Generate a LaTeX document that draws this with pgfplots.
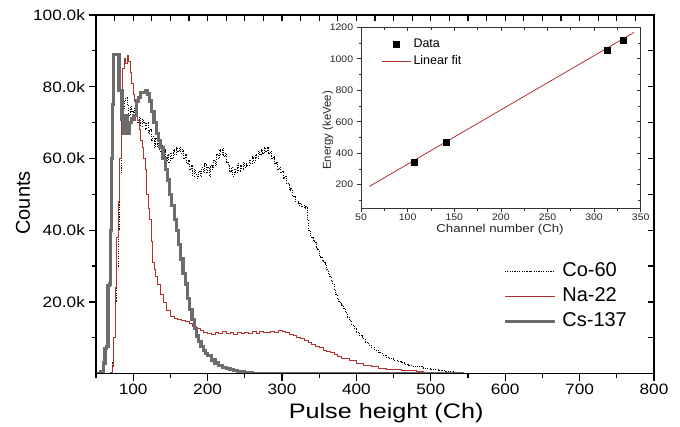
\documentclass[border=0pt]{standalone}
\usepackage{fontspec}
\setmainfont{Liberation Sans}
\usepackage{pgfplots}
\usepackage{pgfplotstable}
\pgfplotsset{compat=1.18}
\definecolor{nared}{RGB}{178,48,48}
\definecolor{csgray}{RGB}{108,108,108}

\pgfplotstableread{
ch c
50 0
70 0
72 3
74 10
76 20
78 30
80 40
82 56
84 68
86 74
88 76
90 77
92 75
94 72
96 74.5
98 73
100 71
102 74
104 73
106 70
108 71.5
110 69
112 71
114 70
116 68
118 70
120 67
122 68
124 65
126 66
128 63
130 65.5
132 63
134 64.5
136 62
138 63.5
140 60.5
142 62.5
144 59.5
146 61
148 59
150 61.5
152 60
154 62.5
156 61
158 63
160 62
162 63.2
164 61.5
166 62.5
168 60
170 61
172 58.5
174 59.5
176 57
178 58
180 55
182 57
184 55.5
186 54.5
188 56.5
190 55
192 57.5
194 56
196 58.5
198 56
200 57.5
202 55
204 58
206 57
208 59.5
210 58
212 61
214 60
216 62.5
218 61
220 62.8
222 60.5
224 61.5
226 59
228 58
230 56.5
232 57.5
234 55
236 57
238 56
240 58.5
242 56.5
244 58
246 57
248 59
250 57.5
252 58.5
254 58
256 59.5
258 58.5
260 60.5
262 59
264 61
266 60
268 62
270 61
272 62.5
274 61.5
276 63
278 62
280 63
282 61.5
284 62
286 60
288 60.5
290 58.5
292 59
294 57
296 57.5
298 56
300 56.5
302 54.5
304 55
306 53
308 53
310 51
312 51.5
314 49.5
316 49.5
318 48
320 48
322 47
324 47.5
326 46.5
328 47
330 46
332 46.5
334 43
336 40
338 38.5
340 38
342 37
344 36.5
346 35
348 34.5
350 33
352 32.5
354 31.5
356 31
358 30.5
360 29
362 28
364 27
366 26
368 25
370 23.5
372 22
374 21
376 20.2
378 19.5
380 19
382 18.3
385 17
388 15.8
391 14.8
394 13.5
397 12.5
400 11.6
404 10.6
408 9.7
412 8.8
416 8.0
420 7.3
425 6.5
430 5.8
435 5.2
440 4.6
445 4.1
450 3.7
455 3.4
460 3.1
465 2.7
470 2.3
475 2.1
480 1.9
490 1.5
500 1.1
510 0.8
520 0.55
530 0.35
540 0.15
550 0
}\coTab

\pgfplotstableread{
ch c
50 0
68 0
70 0.5
72 2
74 10
76 24
78 38
80 48
82 60
84 72
86 85
88 88
90 86.5
92 88.7
94 87
96 84
98 81
100 78
102 76
104 73
106 70.5
108 68
110 65
112 63
114 60
116 57
118 50
120 46
122 43
124 37
126 31
128 29
130 27
133 25
136 22
140 20
145 17.7
150 16
155 15.5
160 15
165 14.8
170 14.5
175 14
180 13.2
185 12.7
190 12.2
195 11.6
200 11.2
205 11
210 11.5
215 11.2
220 11.8
225 11.3
230 11.6
235 11.0
240 11.5
245 11.2
250 11.6
255 11.1
260 11.7
265 11.3
270 11.8
275 11.4
280 11.6
285 11.9
290 11.5
295 12.1
300 11.8
305 11.4
310 11.0
315 10.6
320 10.2
325 9.8
330 9.3
335 8.8
340 8.2
345 7.7
350 7.2
355 6.6
360 6.2
365 5.9
370 5.4
375 4.8
380 4.3
390 3.6
400 2.8
410 2.3
420 1.9
430 1.6
440 1.3
450 1.1
460 0.9
470 0.8
480 0.6
490 0.5
500 0.4
510 0.3
520 0.15
530 0
}\naTab

\pgfplotstableread{
ch c
50 0
56 0.5
60 3
62 7
64 7.5
66 24.5
68 25
70 40
71 60
72 75
73 89
81 79
85 71
87 67
90 72
92 67
95 70
98 71
101 72
104 76
107 77
110 78.5
116 79
119 78
122 76
125 73
128 70
131 67
134 65
137 63
140 60
143 57
146 54
149 50
152 47
155 43
158 40
161 36
164 32
167 28
170 25
173 21
176 18
179 15
182 12.5
185 10.5
188 9
191 7.5
194 6.5
197 5.6
200 5.0
205 3.8
210 3.0
215 2.3
220 1.8
225 1.4
230 1.1
235 0.8
240 0.6
250 0.3
260 0
545 0
}\csTab

\begin{document}
\begin{tikzpicture}
\useasboundingbox (0pt,0pt) rectangle (680pt,426pt);
\pgfplotsset{
  mainbox/.style={at={(96pt,52.3pt)}, anchor=south west, scale only axis,
    width=558pt, height=358.7pt, xmin=50, xmax=800, ymin=0, ymax=100,
    axis line style={line width=1.2pt, black},
    tick style={line width=1.2pt, black}},
  insetbox/.style={at={(361pt,217.7pt)}, anchor=south west, scale only axis,
    width=279.7pt, height=181pt, xmin=50, xmax=350, ymin=50, ymax=1200,
    axis line style={line width=0.7pt, black!80},
    tick style={line width=0.7pt, black!80}},
}
% main axis: bottom/left ticks outside
\begin{axis}[mainbox,
  xtick pos=left, ytick pos=left, tick align=outside,
  xtick={100,200,...,800}, minor xtick={50,150,...,750},
  ytick={20,40,60,80,100}, minor ytick={10,30,50,70,90},
  yticklabels={20.0k,40.0k,60.0k,80.0k,100.0k},
  major tick length=7pt, minor tick length=4pt,
  /pgf/number format/assume math mode=true,
  xticklabel style={font=\fontsize{15}{18}\selectfont, xscale=1.15},
  yticklabel style={font=\fontsize{15}{18}\selectfont, xscale=1.15},
  xlabel={Pulse height (Ch)}, ylabel={Counts},
  xlabel style={font=\fontsize{21}{25}\selectfont, xscale=1.2,
    at={(axis description cs:0.52,-0.111)}, anchor=center},
  ylabel style={font=\fontsize{20}{24}\selectfont,
    at={(axis description cs:-0.131,0.476)}, anchor=center},
  legend image code/.code={\draw[mark repeat=2,mark phase=2,#1] plot coordinates {(0pt,0pt) (25pt,0pt) (50pt,0pt)};},
  legend style={at={(axis description cs:0.7294,0.2147)}, anchor=west,
    draw=none, fill=none, inner sep=0pt, row sep=3pt, column sep=4pt,
    font=\fontsize{20}{24}\selectfont,
    nodes={inner sep=2pt, text height=14pt, text depth=4pt}},
  legend cell align=left,
]
\addplot[const plot, black, line width=1pt, dash pattern=on 1.1pt off 1.3pt] table[x=ch,y=c] {\coTab};
\addlegendentry{Co-60}
\addplot[const plot, nared, line width=0.8pt] table[x=ch,y=c] {\naTab};
\addlegendentry{Na-22}
\addplot[const plot, csgray, line width=3.2pt] table[x=ch,y=c] {\csTab};
\addlegendentry{Cs-137}
\end{axis}
% main axis: top/right ticks inside
\begin{axis}[mainbox,
  xtick pos=right, ytick pos=right, tick align=inside,
  xtick={75,100,...,775}, ytick={10,20,...,90},
  xticklabels={}, yticklabels={}, major tick length=6pt]
\end{axis}
% inset
\begin{axis}[insetbox,
  xtick pos=left, ytick pos=left, tick align=outside,
  xtick={50,100,...,350}, minor xtick={75,125,...,325},
  ytick={200,400,...,1200}, minor ytick={100,300,...,1100},
  major tick length=4pt, minor tick length=2.5pt,
  /pgf/number format/assume math mode=true,
  /pgf/number format/1000 sep={},
  ticklabel style={font=\fontsize{9.5}{11}\selectfont, xscale=1.1, text=black!85},
  xticklabel style={inner sep=1.5pt},
  xlabel={Channel number (Ch)}, ylabel={Energy (keVee)},
  xlabel style={font=\fontsize{11.4}{13}\selectfont, xscale=1.16, text=black!85,
    at={(axis description cs:0.497,-0.119)}, anchor=center},
  ylabel style={font=\fontsize{11.4}{13}\selectfont, text=black!85,
    at={(axis description cs:-0.118,0.43)}, anchor=center},
  legend image code/.code={\draw[mark repeat=2,mark phase=2,#1] plot coordinates {(0pt,0pt) (14.5pt,0pt) (29pt,0pt)};},
  legend style={at={(axis description cs:0.0715,0.859)}, anchor=west,
    draw=none, fill=none, inner sep=0pt, row sep=1.5pt, column sep=1pt,
    font=\fontsize{12.5}{14}\selectfont,
    nodes={inner sep=1.5pt, text height=9pt, text depth=3pt}},
  legend cell align=left,
]
\addplot[only marks, mark=square*, mark size=3pt, black] coordinates {
  (107,340) (141,472) (314,1055) (331,1115)};
\addlegendentry{Data}
\addplot[nared, line width=0.8pt] coordinates {(59,189) (343,1168)};
\addlegendentry{Linear fit}
\end{axis}
\begin{axis}[insetbox,
  xtick pos=right, ytick pos=right, tick align=inside,
  xtick={50,100,...,350}, minor xtick={75,125,...,325},
  ytick={200,400,...,1200}, minor ytick={100,300,...,1100},
  major tick length=4pt, minor tick length=2.5pt,
  xticklabels={}, yticklabels={}]
\end{axis}
\end{tikzpicture}
\end{document}
